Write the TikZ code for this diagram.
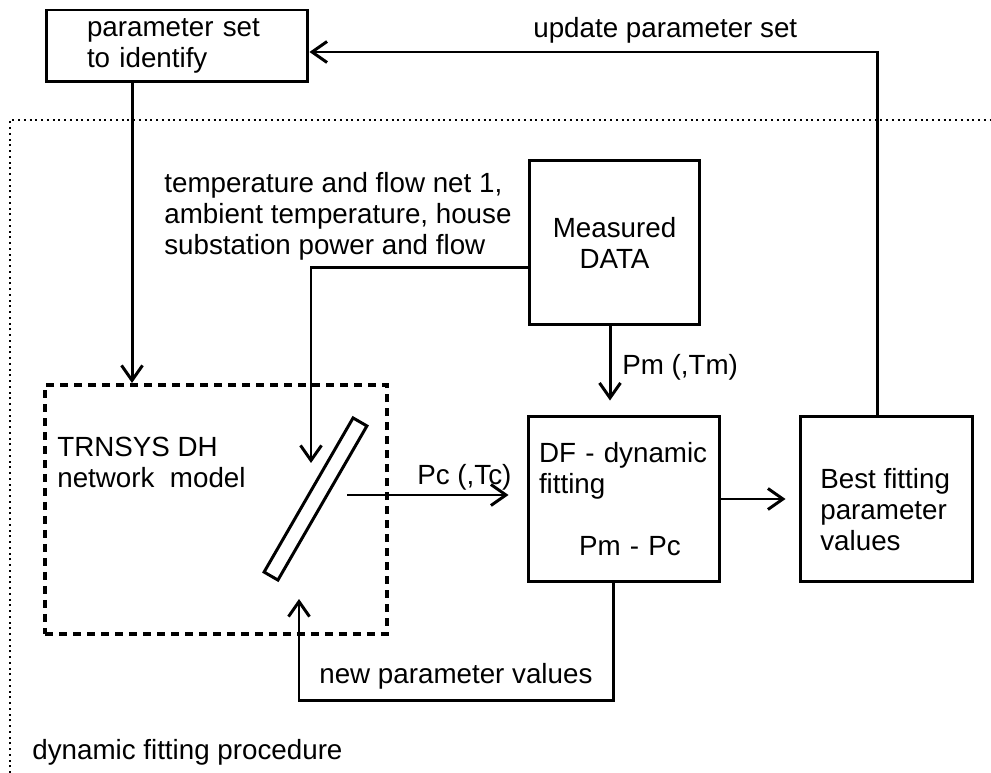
\documentclass[tikz,border=0pt]{standalone}
\usepackage{fontspec}
\setmainfont{Liberation Sans}
\usetikzlibrary{arrows.meta}

\begin{document}
\begin{tikzpicture}
	[
	x=0.02cm, y=-0.02cm, font=\fontsize{15.8}{17.6}\selectfont, >={Straight Barb[length=0.3cm, width=0.42cm]},
	%Voreinstellungen
	conn/.style={line width=1.7pt},
	box/.style={draw, line width=1.7pt, inner sep=0pt, align=left},
	txt/.style={inner sep=0pt, anchor=west, align=left}
	]
	\useasboundingbox (0,0) rectangle (991,773);
	%Rahmen
	\draw[line width=1.1pt, dash pattern=on 0.04cm off 0.075cm] (10,773) -- (10,120) -- (991,120);
	%Kaesten
	\node[box, minimum width=5.24cm, minimum height=1.44cm, text width=3.6cm] (param) at (177,46) {parameter set\\to identify};
	\node[draw, line width=2.3pt, dash pattern=on 0.16cm off 0.12cm, minimum width=6.84cm, minimum height=4.98cm] (model) at (216,509.5) {};
	\node[box, align=center, minimum width=3.42cm, minimum height=3.3cm] (meas) at (614.5,242.5) {Measured\\DATA};
	\node[box, minimum width=3.84cm, minimum height=3.32cm, text width=3.4cm] (df) at (624,499) {DF - dynamic\\fitting\\[0.62cm]\hspace*{0.8cm}Pm - Pc};
	\node[box, minimum width=3.46cm, minimum height=3.32cm] (best) at (886.5,499) {};
	\node[draw, line width=1.7pt, inner sep=0pt, minimum width=3.56cm, minimum height=0.32cm, rotate=60] (slab) at (315.5,499) {};
	%Texte
	\node[txt] (besttxt) at (820,510) {Best fitting\\parameter\\values};
	\node[txt] (modeltxt) at (57,462) {TRNSYS DH\\network\ \ model};
	\node[txt] (sigtxt) at (164,216) {temperature and flow net 1,\\ambient temperature, house\\substation power and flow};
	\node[txt] (updtxt) at (533,30) {update parameter set};
	\node[txt] (pmtxt) at (622,367) {Pm (,Tm)};
	\node[txt] (pctxt) at (417,477) {Pc (,Tc)};
	\node[txt] (newtxt) at (319,676) {new parameter values};
	\node[txt] (proctxt) at (32,752) {dynamic fitting procedure};
	%Pfeile
	\coordinate (intip) at (311,463);
	\coordinate (pcstart) at (347,495);
	\coordinate (fbtip) at (299,599);
	\draw[conn, ->] ([xshift=-0.9cm]param.south) -- ([xshift=-0.9cm]param.south |- model.north);
	\draw[conn, ->] ([yshift=-0.51cm]meas.west) -| (intip);
	\draw[conn, ->, shorten >=0.28cm] ([xshift=-0.09cm]meas.south) -- ([xshift=-0.09cm]meas.south |- df.north);
	\draw[conn, ->, shorten >=0.36cm] (pcstart) -- (pcstart -| df.west);
	\draw[conn, ->, shorten >=0.26cm] (df.east) -- (best.west);
	\draw[conn, ->] ([xshift=-0.19cm]best.north) |- ([yshift=-0.12cm]param.east);
	\draw[conn, ->] ([xshift=-0.22cm]df.south) -- ++(0,117) -| (fbtip);
\end{tikzpicture}
\end{document}
